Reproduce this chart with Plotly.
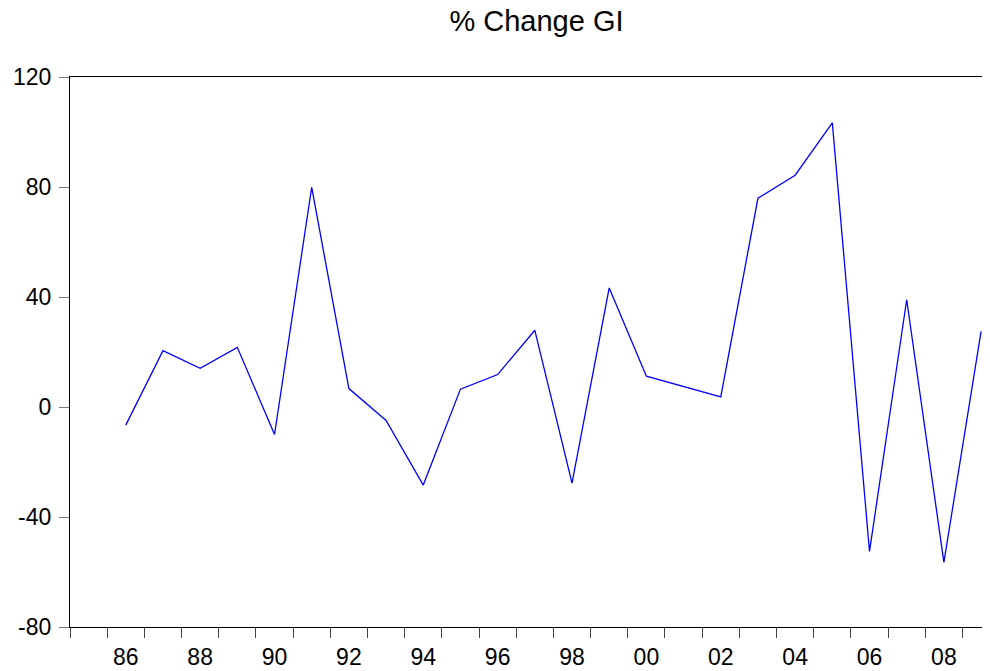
import plotly.graph_objects as pgo

# annual % change
years = list(range(1986, 2010))
pct_change = [-6.6, 20.5, 14.1, 21.7, -10.0, 79.9, 6.7, -4.9, -28.4, 6.5,
              11.8, 27.9, -27.7, 43.3, 11.2, 7.4, 3.7, 75.9, 84.3, 103.3,
              -52.5, 39.0, -56.5, 27.5]

label_years = list(range(1986, 2009, 2))
label_text = [str(y)[2:] for y in label_years]
y_ticks = [-80, -40, 0, 40, 80, 120]
y_text = [str(v) for v in y_ticks]  # plain hyphen, like the original

FONT = "Liberation Sans, Arial, sans-serif"

# the page body adds an 8px margin, so the figure is 8px smaller each way
W, H = 982, 663

fig = pgo.Figure()
fig.add_trace(pgo.Scatter(x=years, y=pct_change, mode="lines",
                          line=dict(color="#0000ff", width=1.3),
                          cliponaxis=False))

fig.update_layout(
  width=W, height=H,
  margin=dict(l=62, r=0, t=69, b=44, autoexpand=False),
  paper_bgcolor="white", plot_bgcolor="white",
  showlegend=False,
  font=dict(family=FONT, color="black", size=23),
  title=dict(text="% Change GI", x=528.5 / W, xanchor="center",
             y=1 - 13 / H, yanchor="middle",
             font=dict(family=FONT, size=29, color="black")),
)

fig.update_xaxes(
  range=[1984.5, 2009.24], showgrid=False, zeroline=False, automargin=False,
  showline=True, linecolor="black", linewidth=1.3, mirror=True,
  tickmode="array", tickvals=label_years, ticktext=label_text,
  ticks="", ticklabelstandoff=9,
  minor=dict(ticks="outside", tick0=1984.5, dtick=1, ticklen=10,
             tickcolor="#444", tickwidth=1.3, showgrid=False),
)
fig.update_yaxes(
  range=[-80, 120], showgrid=False, zeroline=False, automargin=False,
  showline=True, linecolor="black", linewidth=1.3, mirror=False,
  tickmode="array", tickvals=y_ticks, ticktext=y_text,
  ticks="outside", ticklen=10, tickcolor="#777", tickwidth=1,
  ticklabelstandoff=3,
)

fig.write_html("out.html")
